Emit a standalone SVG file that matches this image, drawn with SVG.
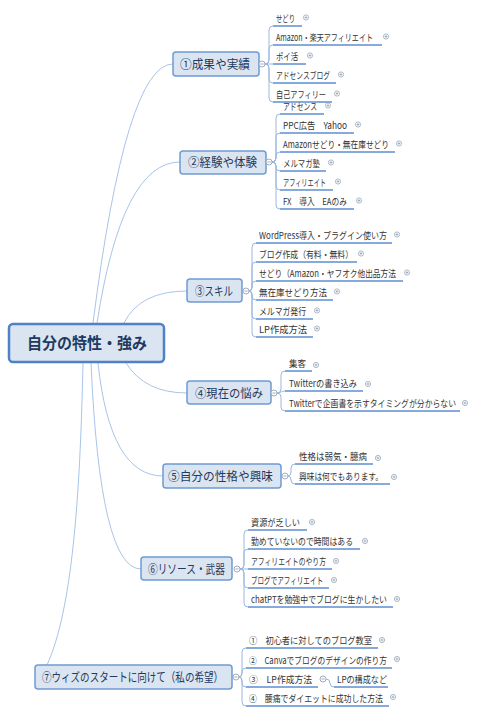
<svg xmlns="http://www.w3.org/2000/svg" width="477" height="714" viewBox="0 0 477 714">
<style>
.bg{fill:#ffffff}
.node{fill:#dbe5f1;stroke:#6f9bd4;stroke-width:1.5}
.root{fill:#dbe5f1;stroke:#4f81c7;stroke-width:2.5}
.nt{font-family:"Noto Sans CJK JP","Noto Sans",sans-serif;font-size:12.5px;fill:#1f3a60}
.rt{font-family:"Noto Sans CJK JP","Noto Sans",sans-serif;font-size:16px;font-weight:bold;fill:#1f3a60}
.ct{font-family:"Noto Sans CJK JP","Noto Sans",sans-serif;font-size:9.5px;fill:#333333}
.conn{fill:none;stroke:#a9c4e8;stroke-width:1}
.br{fill:none;stroke:#9ab8df;stroke-width:1}
.ul{fill:none;stroke:#5d8fd0;stroke-width:1.3}
.cc{fill:#ffffff;stroke:#8a9bb0;stroke-width:0.8}
.pl{fill:#ffffff;stroke:#8a9bb0;stroke-width:0.7}
</style>
<defs>
<g id="plus"><circle class="pl" r="2.6"/><path d="M-1.4 0H1.4M0 -1.4V1.4" stroke="#8a9bb0" stroke-width="0.7"/></g>
<g id="minus"><circle class="cc" r="3"/><path d="M-1.6 0H1.6" stroke="#8a9bb0" stroke-width="0.8"/></g>
</defs>
<rect class="bg" x="0" y="0" width="477" height="714"/>

<g id="connectors">
<path class="conn" d="M93 323 Q126 64 173 64"/>
<path class="conn" d="M97 323 Q122 162 180 162"/>
<path class="conn" d="M124 323 Q140 291 187 291"/>
<path class="conn" d="M126 363 Q145 393 187 393"/>
<path class="conn" d="M98 363 Q110 476 163 476"/>
<path class="conn" d="M91 363 Q100 569 141 569"/>
<path class="conn" d="M83 363 C80 500 72 610 47 665"/>

<path class="br" d="M265 64 Q269 64 269 60 V30 Q269 26 273 26"/>
<path class="br" d="M265 64 Q269 64 269 60 V49 Q269 45 273 45"/>
<path class="br" d="M265 64 H273"/>
<path class="br" d="M265 64 Q269 64 269 68 V79 Q269 83 273 83"/>
<path class="br" d="M265 64 Q269 64 269 68 V98 Q269 102 273 102"/>

<path class="br" d="M272 162 Q276 162 276 158 V118 Q276 114 280 114"/>
<path class="br" d="M272 162 Q276 162 276 158 V137 Q276 133 280 133"/>
<path class="br" d="M272 162 Q276 162 276 158 V156 Q276 152 280 152"/>
<path class="br" d="M272 162 Q276 162 276 166 V167 Q276 171 280 171"/>
<path class="br" d="M272 162 Q276 162 276 166 V186 Q276 190 280 190"/>
<path class="br" d="M272 162 Q276 162 276 166 V205 Q276 209 280 209"/>

<path class="br" d="M249 291 Q252 291 252 287 V247 Q252 243 256 243"/>
<path class="br" d="M249 291 Q252 291 252 287 V266 Q252 262 256 262"/>
<path class="br" d="M249 291 Q252 291 252 287 V285 Q252 281 256 281"/>
<path class="br" d="M249 291 Q252 291 252 295 V296 Q252 300 256 300"/>
<path class="br" d="M249 291 Q252 291 252 295 V315 Q252 319 256 319"/>
<path class="br" d="M249 291 Q252 291 252 295 V333 Q252 337 256 337"/>

<path class="br" d="M277 393 Q281 393 281 389 V375 Q281 371 285 371"/>
<path class="br" d="M277 393 C281 393 281 391 285 391"/>
<path class="br" d="M277 393 Q281 393 281 397 V407 Q281 411 285 411"/>

<path class="br" d="M288 476 Q291 476 291 472 V468 Q291 464 295 464"/>
<path class="br" d="M288 476 Q291 476 291 480 Q291 484 295 484"/>

<path class="br" d="M240 569 Q244 569 244 565 V534 Q244 530 248 530"/>
<path class="br" d="M240 569 Q244 569 244 565 V553 Q244 549 248 549"/>
<path class="br" d="M240 569 H248"/>
<path class="br" d="M240 569 Q244 569 244 573 V584 Q244 588 248 588"/>
<path class="br" d="M240 569 Q244 569 244 573 V603 Q244 607 248 607"/>

<path class="br" d="M239 677 Q242 677 242 673 V652 Q242 648 246 648"/>
<path class="br" d="M239 677 Q242 677 242 673 V672 Q242 668 246 668"/>
<path class="br" d="M239 677 Q242 677 242 681 V683 Q242 687 246 687"/>
<path class="br" d="M239 677 Q242 677 242 681 V702 Q242 706 246 706"/>
<path class="br" d="M326 679 Q330 679 330 683 Q330 687 334 687"/>
</g>

<g id="root">
<rect class="root" x="9" y="324" width="155" height="38" rx="4"/>
<text class="rt" x="27" y="349" textLength="120" lengthAdjust="spacingAndGlyphs">自分の特性・強み</text>
</g>

<g id="n1">
<rect class="node" x="173" y="52" width="86" height="24" rx="3"/>
<text class="nt" x="180" y="68.5" textLength="70" lengthAdjust="spacingAndGlyphs">①成果や実績</text>
<use href="#minus" x="262" y="64"/>
</g>
<g id="n1c">
<path class="ul" d="M273 26H302M273 45H382M273 64H306M273 83H336M273 102H332"/>
<text class="ct" x="276" y="22" textLength="19" lengthAdjust="spacingAndGlyphs">せどり</text>
<text class="ct" x="276" y="41" textLength="97" lengthAdjust="spacingAndGlyphs">Amazon・楽天アフィリエイト</text>
<text class="ct" x="276" y="60" textLength="22" lengthAdjust="spacingAndGlyphs">ポイ活</text>
<text class="ct" x="276" y="79" textLength="54" lengthAdjust="spacingAndGlyphs">アドセンスブログ</text>
<text class="ct" x="276" y="98" textLength="50" lengthAdjust="spacingAndGlyphs">自己アフィリー</text>
<use href="#plus" x="306" y="17.5"/>
<use href="#plus" x="386" y="36.5"/>
<use href="#plus" x="310" y="55.5"/>
<use href="#plus" x="341" y="74.5"/>
<use href="#plus" x="337" y="93.5"/>
</g>

<g id="n2">
<rect class="node" x="180" y="151" width="86" height="23" rx="3"/>
<text class="nt" x="188" y="166.5" textLength="69" lengthAdjust="spacingAndGlyphs">②経験や体験</text>
<use href="#minus" x="269" y="162"/>
</g>
<g id="n2c">
<path class="ul" d="M280 114H324M280 133H354M280 152H395M280 171H326M280 190H333M280 209H354"/>
<text class="ct" x="283" y="110" textLength="34" lengthAdjust="spacingAndGlyphs">アドセンス</text>
<text class="ct" x="283" y="129" textLength="64" lengthAdjust="spacingAndGlyphs">PPC広告　Yahoo</text>
<text class="ct" x="283" y="148" textLength="106" lengthAdjust="spacingAndGlyphs">Amazonせどり・無在庫せどり</text>
<text class="ct" x="283" y="167" textLength="37" lengthAdjust="spacingAndGlyphs">メルマガ塾</text>
<text class="ct" x="283" y="186" textLength="43" lengthAdjust="spacingAndGlyphs">アフィリエイト</text>
<text class="ct" x="283" y="205" textLength="64" lengthAdjust="spacingAndGlyphs">FX　導入　EAのみ</text>
<use href="#plus" x="328" y="105.5"/>
<use href="#plus" x="358" y="124.5"/>
<use href="#plus" x="399" y="143.5"/>
<use href="#plus" x="331" y="162.5"/>
<use href="#plus" x="338" y="181.5"/>
<use href="#plus" x="359" y="200.5"/>
</g>

<g id="n3">
<rect class="node" x="187" y="279" width="55" height="23" rx="3"/>
<text class="nt" x="195" y="295.5" textLength="38" lengthAdjust="spacingAndGlyphs">③スキル</text>
<use href="#minus" x="246" y="291"/>
</g>
<g id="n3c">
<path class="ul" d="M256 243H392M256 262H357M256 281H403M256 300H333M256 319H313M256 337H313"/>
<text class="ct" x="259" y="239" textLength="128" lengthAdjust="spacingAndGlyphs">WordPress導入・プラグイン使い方</text>
<text class="ct" x="259" y="258" textLength="94" lengthAdjust="spacingAndGlyphs">ブログ作成（有料・無料）</text>
<text class="ct" x="259" y="277" textLength="137" lengthAdjust="spacingAndGlyphs">せどり（Amazon・ヤフオク他出品方法</text>
<text class="ct" x="259" y="296" textLength="68" lengthAdjust="spacingAndGlyphs">無在庫せどり方法</text>
<text class="ct" x="259" y="315" textLength="47" lengthAdjust="spacingAndGlyphs">メルマガ発行</text>
<text class="ct" x="259" y="333" textLength="48" lengthAdjust="spacingAndGlyphs">LP作成方法</text>
<use href="#plus" x="397" y="234.5"/>
<use href="#plus" x="361" y="253.5"/>
<use href="#plus" x="407" y="272.5"/>
<use href="#plus" x="337" y="291.5"/>
<use href="#plus" x="317" y="310.5"/>
<use href="#plus" x="317" y="328.5"/>
</g>

<g id="n4">
<rect class="node" x="187" y="381" width="84" height="23" rx="3"/>
<text class="nt" x="195" y="397.5" textLength="68" lengthAdjust="spacingAndGlyphs">④現在の悩み</text>
<use href="#minus" x="274" y="393"/>
</g>
<g id="n4c">
<path class="ul" d="M285 371H312M285 391H363M285 411H460"/>
<text class="ct" x="289" y="367" textLength="17" lengthAdjust="spacingAndGlyphs">集客</text>
<text class="ct" x="289" y="387" textLength="68" lengthAdjust="spacingAndGlyphs">Twitterの書き込み</text>
<text class="ct" x="289" y="407" textLength="167" lengthAdjust="spacingAndGlyphs">Twitterで企画書を示すタイミングが分からない</text>
<use href="#plus" x="316" y="365"/>
<use href="#plus" x="368" y="384"/>
<use href="#plus" x="465" y="403"/>
</g>

<g id="n5">
<rect class="node" x="163" y="464" width="118" height="24" rx="3"/>
<text class="nt" x="168" y="480.5" textLength="105" lengthAdjust="spacingAndGlyphs">⑤自分の性格や興味</text>
<use href="#minus" x="285" y="476"/>
</g>
<g id="n5c">
<path class="ul" d="M295 464H373M295 484H390"/>
<text class="ct" x="299" y="460" textLength="68" lengthAdjust="spacingAndGlyphs">性格は弱気・臆病</text>
<text class="ct" x="299" y="480" textLength="84" lengthAdjust="spacingAndGlyphs">興味は何でもあります。</text>
<use href="#plus" x="378" y="458"/>
<use href="#plus" x="394" y="477"/>
</g>

<g id="n6">
<rect class="node" x="141" y="557" width="91" height="23" rx="3"/>
<text class="nt" x="148" y="573.5" textLength="77" lengthAdjust="spacingAndGlyphs">⑥リソース・武器</text>
<use href="#minus" x="237" y="569"/>
</g>
<g id="n6c">
<path class="ul" d="M248 530H307M248 549H360M248 569H332M248 588H329M248 607H393"/>
<text class="ct" x="251" y="526" textLength="49" lengthAdjust="spacingAndGlyphs">資源が乏しい</text>
<text class="ct" x="251" y="545" textLength="102" lengthAdjust="spacingAndGlyphs">勤めていないので時間はある</text>
<text class="ct" x="251" y="565" textLength="75" lengthAdjust="spacingAndGlyphs">アフィリエイトのやり方</text>
<text class="ct" x="251" y="584" textLength="72" lengthAdjust="spacingAndGlyphs">ブログでアフィリエイト</text>
<text class="ct" x="251" y="603" textLength="136" lengthAdjust="spacingAndGlyphs">chatPTを勉強中でブログに生かしたい</text>
<use href="#plus" x="312" y="522"/>
<use href="#plus" x="365" y="541"/>
<use href="#plus" x="336" y="561"/>
<use href="#plus" x="334" y="580"/>
<use href="#plus" x="397" y="599"/>
</g>

<g id="n7">
<rect class="node" x="35" y="665" width="197" height="24" rx="3"/>
<text class="nt" x="42" y="681.5" textLength="181" lengthAdjust="spacingAndGlyphs">⑦ウィズのスタートに向けて（私の希望）</text>
<use href="#minus" x="236" y="677"/>
</g>
<g id="n7c">
<path class="ul" d="M246 648H378M246 668H392M246 687H318M334 687H388M246 706H389"/>
<text class="ct" x="249" y="644" textLength="123" lengthAdjust="spacingAndGlyphs">①　初心者に対してのブログ教室</text>
<text class="ct" x="249" y="664" textLength="138" lengthAdjust="spacingAndGlyphs">②　Canvaでブログのデザインの作り方</text>
<text class="ct" x="249" y="683" textLength="63" lengthAdjust="spacingAndGlyphs">③　LP作成方法</text>
<text class="ct" x="337" y="683" textLength="50" lengthAdjust="spacingAndGlyphs">LPの構成など</text>
<text class="ct" x="249" y="702" textLength="134" lengthAdjust="spacingAndGlyphs">④　腰痛でダイエットに成功した方法</text>
<use href="#minus" x="323" y="679"/>
<use href="#plus" x="382" y="640"/>
<use href="#plus" x="397" y="659"/>
<use href="#plus" x="393" y="697"/>
</g>
</svg>
